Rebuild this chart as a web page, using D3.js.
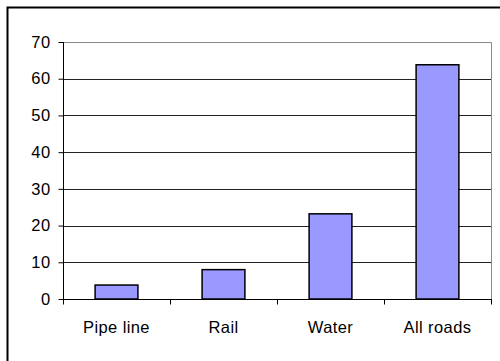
<!DOCTYPE html>
<html>
<head>
<meta charset="utf-8">
<script src="https://cdn.jsdelivr.net/npm/d3@7"></script>
<style>
  html, body { margin: 0; padding: 0; background: #fff; }
  svg { display: block; }
  text { font-family: "Liberation Sans", Arial, sans-serif; font-size: 16.5px; fill: #000; letter-spacing: 0.4px; }
</style>
</head>
<body>
<svg id="chart" width="500" height="361"></svg>
<script>
// Transport modes and their values
const categories = ["Pipe line", "Rail", "Water", "All roads"];
const values = [3.8, 8, 23.2, 63.8];
const yTicks = [0, 10, 20, 30, 40, 50, 60, 70];

const svg = d3.select("#chart");
const plot = { left: 63, right: 491, top: 42, bottom: 299 };

// Outer chart frame (continues past the visible area)
svg.append("rect")
  .attr("x", 7.5).attr("y", 7.5)
  .attr("width", 560).attr("height", 420)
  .attr("fill", "none").attr("stroke", "#000").attr("stroke-width", 2);

const xBand = d3.scaleBand().domain(categories).range([plot.left, plot.right]);
const barWidth = xBand.bandwidth() / 2.5;

const y = d3.scaleLinear().domain([0, 70]).range([plot.bottom, plot.top]);

// Gridlines
svg.append("g")
  .selectAll("line")
  .data(yTicks.filter(d => d > 0 && d < 70))
  .join("line")
  .attr("x1", plot.left).attr("x2", plot.right)
  .attr("y1", d => Math.round(y(d)) + 0.5).attr("y2", d => Math.round(y(d)) + 0.5)
  .attr("stroke", "#222").attr("stroke-width", 1);

// Plot area border (top and right)
svg.append("path")
  .attr("d", `M${plot.left},${plot.top + 0.5}H${plot.right + 0.5}V${plot.bottom}`)
  .attr("fill", "none").attr("stroke", "#888").attr("stroke-width", 1);

// Bars
svg.append("g")
  .selectAll("rect")
  .data(values)
  .join("rect")
  .attr("x", (d, i) => xBand(categories[i]) + (xBand.bandwidth() - barWidth) / 2)
  .attr("width", barWidth)
  .attr("y", d => y(d))
  .attr("height", d => y(0) - y(d))
  .attr("fill", "#9999ff")
  .attr("stroke", "#000").attr("stroke-width", 1.5);

// Y axis
const yAxis = svg.append("g")
  .attr("transform", `translate(${plot.left + 0.5},0)`)
  .call(d3.axisLeft(y).tickValues(yTicks).tickSize(5).tickPadding(8));
yAxis.attr("font-size", null).attr("font-family", null);
yAxis.select(".domain").attr("stroke", "#000").attr("d", `M0,${plot.top}V${plot.bottom}`);
yAxis.selectAll(".tick line").attr("stroke", "#000");
yAxis.selectAll("text").attr("fill", "#000");

// X axis with ticks at category boundaries
const xAxisG = svg.append("g").attr("transform", `translate(0,${plot.bottom + 0.5})`);
xAxisG.append("line")
  .attr("x1", plot.left).attr("x2", plot.right + 1)
  .attr("stroke", "#000");
xAxisG.selectAll("line.tick")
  .data(categories.map(c => xBand(c)).concat([plot.right]))
  .join("line")
  .attr("class", "tick")
  .attr("x1", d => Math.round(d) + 0.5).attr("x2", d => Math.round(d) + 0.5)
  .attr("y1", 0).attr("y2", 5)
  .attr("stroke", "#000");
xAxisG.selectAll("text")
  .data(categories)
  .join("text")
  .attr("x", d => xBand(d) + xBand.bandwidth() / 2)
  .attr("y", 33)
  .attr("text-anchor", "middle")
  .text(d => d);
</script>
</body>
</html>
